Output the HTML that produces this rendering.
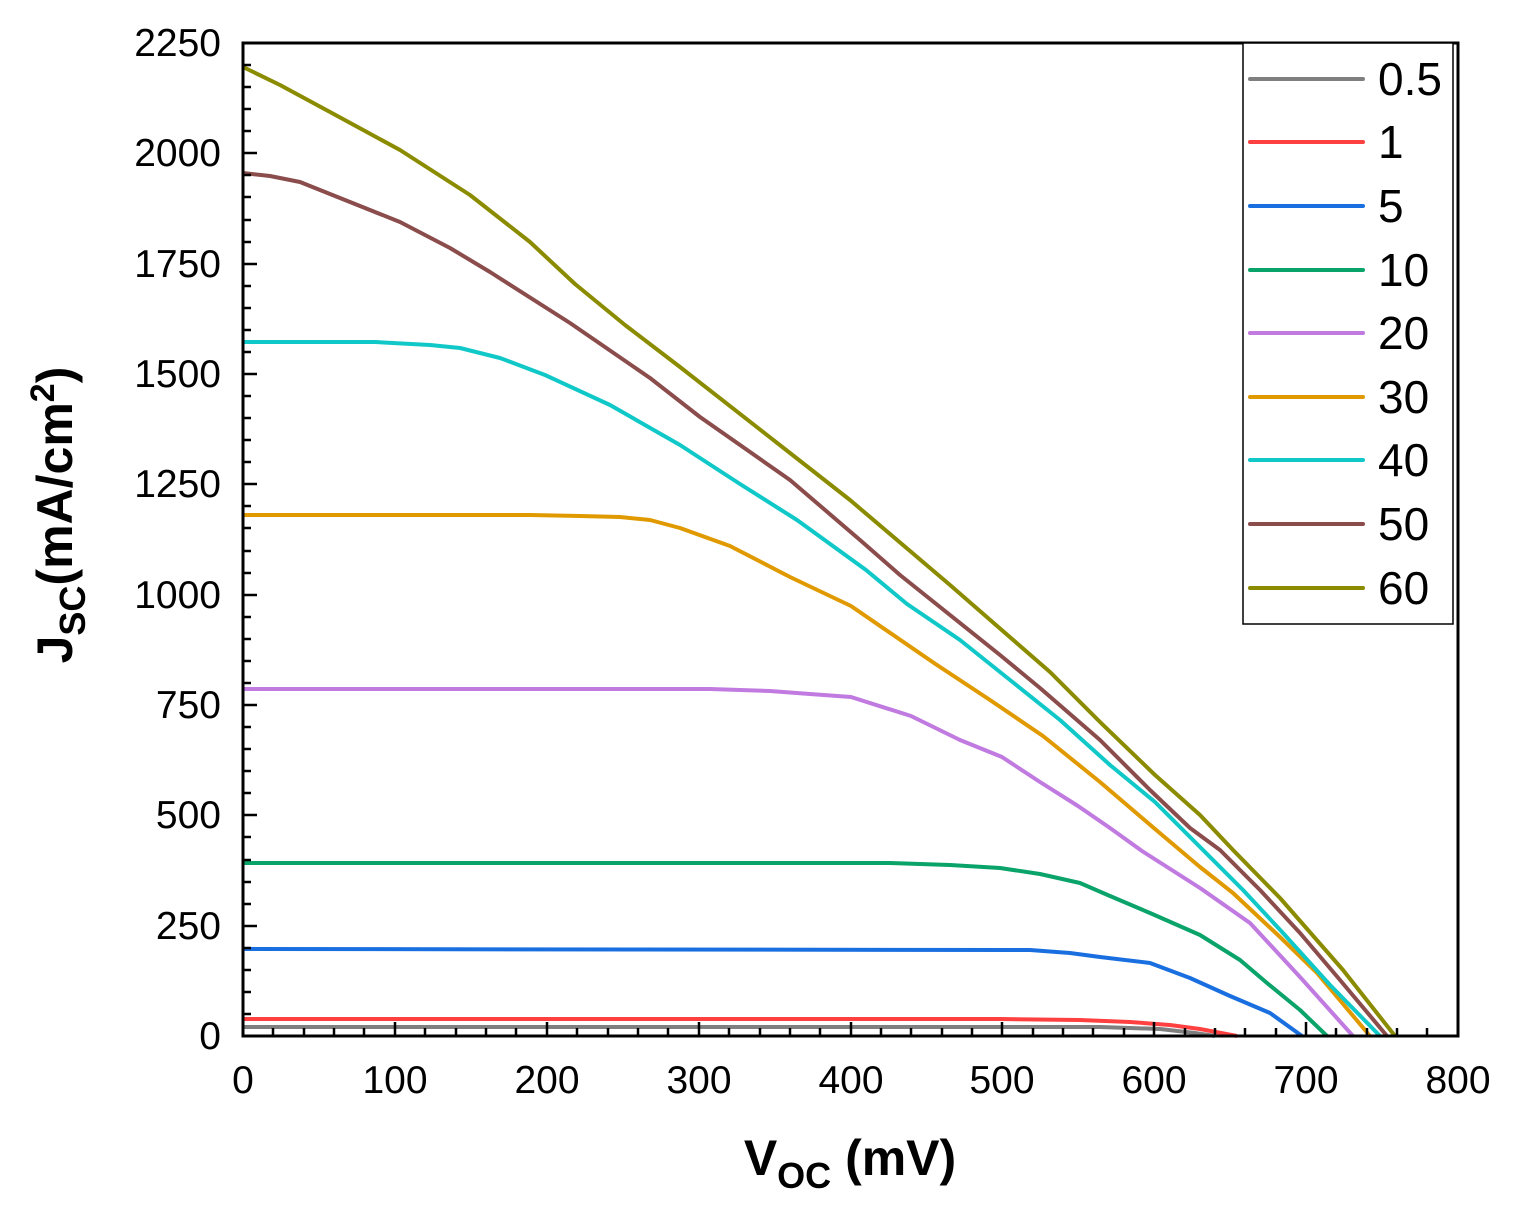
<!DOCTYPE html>
<html><head><meta charset="utf-8"><style>html,body{margin:0;padding:0;background:#fff}</style></head><body>
<svg width="1515" height="1215" xmlns="http://www.w3.org/2000/svg" font-family="Liberation Sans, Arial, sans-serif">
<g fill="none" stroke-width="4" stroke-linejoin="round" stroke-linecap="butt">
<polyline stroke="#7f7f7f" points="243,1027 1100,1027 1160,1029 1195,1033 1215,1036"/>
<polyline stroke="#ff4040" points="243,1019 1000,1019 1080,1020 1130,1022 1170,1025 1200,1029 1237,1036"/>
<polyline stroke="#1a6fe0" points="243,949 1030,950 1070,953 1100,957 1150,963 1190,978 1230,996 1270,1013 1302,1036"/>
<polyline stroke="#0aa36a" points="243,863 890,863 950,865 1000,868 1040,874 1080,883 1110,896 1150,913 1200,935 1240,960 1267,983 1300,1010 1327,1036"/>
<polyline stroke="#c07ae0" points="243,689 710,689 770,691 810,694 851,697 911,716 960,740 1002,757 1040,782 1078,806 1110,828 1142,851 1200,888 1250,923 1300,977 1353,1036"/>
<polyline stroke="#e09a00" points="243,515 530,515 580,516 620,517 650,520 680,528 730,546 790,577 851,606 934,663 990,700 1043,736 1100,782 1155,829 1200,867 1233,893 1280,937 1317,973 1370,1036"/>
<polyline stroke="#10c8c8" points="243,342 375,342 430,345 460,348 500,358 545,375 610,405 680,445 740,484 797,520 866,570 907,604 960,640 1010,680 1060,720 1110,765 1155,802 1203,850 1243,890 1283,933 1330,985 1380,1036"/>
<polyline stroke="#8b4c4c" points="243,173 270,176 300,182 320,190 400,222 450,248 490,272 570,323 650,378 700,417 790,480 860,540 900,575 1000,655 1040,688 1100,740 1150,790 1190,828 1220,850 1260,890 1300,933 1340,980 1387,1036"/>
<polyline stroke="#8b8b00" points="243,67 280,85 330,112 400,150 470,195 530,242 575,284 625,325 680,367 790,453 850,500 950,585 1050,672 1100,722 1155,775 1200,815 1233,850 1280,898 1343,970 1395,1036"/>
</g>
<rect x="243" y="43" width="1215" height="993" fill="none" stroke="#000" stroke-width="3"/>
<g stroke="#000" stroke-width="2.5">
<path d="M243,1036h14M243,926h14M243,815h14M243,705h14M243,595h14M243,484h14M243,374h14M243,264h14M243,153h14M243,43h14"/>
<path d="M243,1014h8M243,992h8M243,970h8M243,948h8M243,904h8M243,882h8M243,860h8M243,837h8M243,793h8M243,771h8M243,749h8M243,727h8M243,683h8M243,661h8M243,639h8M243,617h8M243,573h8M243,551h8M243,528h8M243,506h8M243,462h8M243,440h8M243,418h8M243,396h8M243,352h8M243,330h8M243,308h8M243,286h8M243,242h8M243,220h8M243,197h8M243,175h8M243,131h8M243,109h8M243,87h8M243,65h8"/>
<path d="M243,1036v-14M395,1036v-14M547,1036v-14M699,1036v-14M851,1036v-14M1002,1036v-14M1154,1036v-14M1306,1036v-14M1458,1036v-14"/>
<path d="M273,1036v-8M304,1036v-8M334,1036v-8M364,1036v-8M425,1036v-8M456,1036v-8M486,1036v-8M516,1036v-8M577,1036v-8M608,1036v-8M638,1036v-8M668,1036v-8M729,1036v-8M760,1036v-8M790,1036v-8M820,1036v-8M881,1036v-8M911,1036v-8M942,1036v-8M972,1036v-8M1033,1036v-8M1063,1036v-8M1093,1036v-8M1124,1036v-8M1185,1036v-8M1215,1036v-8M1245,1036v-8M1276,1036v-8M1336,1036v-8M1367,1036v-8M1397,1036v-8M1427,1036v-8"/>
</g>
<g font-size="39" text-anchor="end">
<text x="221" y="1049">0</text><text x="221" y="939">250</text><text x="221" y="828">500</text><text x="221" y="718">750</text><text x="221" y="608">1000</text><text x="221" y="497">1250</text><text x="221" y="387">1500</text><text x="221" y="277">1750</text><text x="221" y="166">2000</text><text x="221" y="56">2250</text>
</g>
<g font-size="39" text-anchor="middle">
<text x="243" y="1093">0</text><text x="395" y="1093">100</text><text x="547" y="1093">200</text><text x="699" y="1093">300</text><text x="851" y="1093">400</text><text x="1002" y="1093">500</text><text x="1154" y="1093">600</text><text x="1306" y="1093">700</text><text x="1458" y="1093">800</text>
</g>
<text x="850" y="1175" font-size="50" font-weight="bold" text-anchor="middle">V<tspan font-size="36" dy="13">OC</tspan><tspan dy="-13"> (mV)</tspan></text>
<text transform="translate(72,515) rotate(-90)" font-size="50" font-weight="bold" text-anchor="middle">J<tspan font-size="36" dy="13">SC</tspan><tspan dy="-13">(mA/cm</tspan><tspan font-size="34" dy="-18">2</tspan><tspan dy="18">)</tspan></text>
<rect x="1243" y="43" width="210" height="581" fill="#fff" stroke="#000" stroke-width="1.5"/>
<g stroke-width="4" stroke-linecap="round">
<line x1="1250" x2="1363" y1="79" y2="79" stroke="#7f7f7f"/>
<line x1="1250" x2="1363" y1="142" y2="142" stroke="#ff4040"/>
<line x1="1250" x2="1363" y1="206" y2="206" stroke="#1a6fe0"/>
<line x1="1250" x2="1363" y1="270" y2="270" stroke="#0aa36a"/>
<line x1="1250" x2="1363" y1="333" y2="333" stroke="#c07ae0"/>
<line x1="1250" x2="1363" y1="397" y2="397" stroke="#e09a00"/>
<line x1="1250" x2="1363" y1="460" y2="460" stroke="#10c8c8"/>
<line x1="1250" x2="1363" y1="524" y2="524" stroke="#8b4c4c"/>
<line x1="1250" x2="1363" y1="588" y2="588" stroke="#8b8b00"/>
</g>
<g font-size="46">
<text x="1378" y="95">0.5</text><text x="1378" y="158">1</text><text x="1378" y="222">5</text><text x="1378" y="286">10</text><text x="1378" y="349">20</text><text x="1378" y="413">30</text><text x="1378" y="476">40</text><text x="1378" y="540">50</text><text x="1378" y="604">60</text>
</g>
</svg>
</body></html>
